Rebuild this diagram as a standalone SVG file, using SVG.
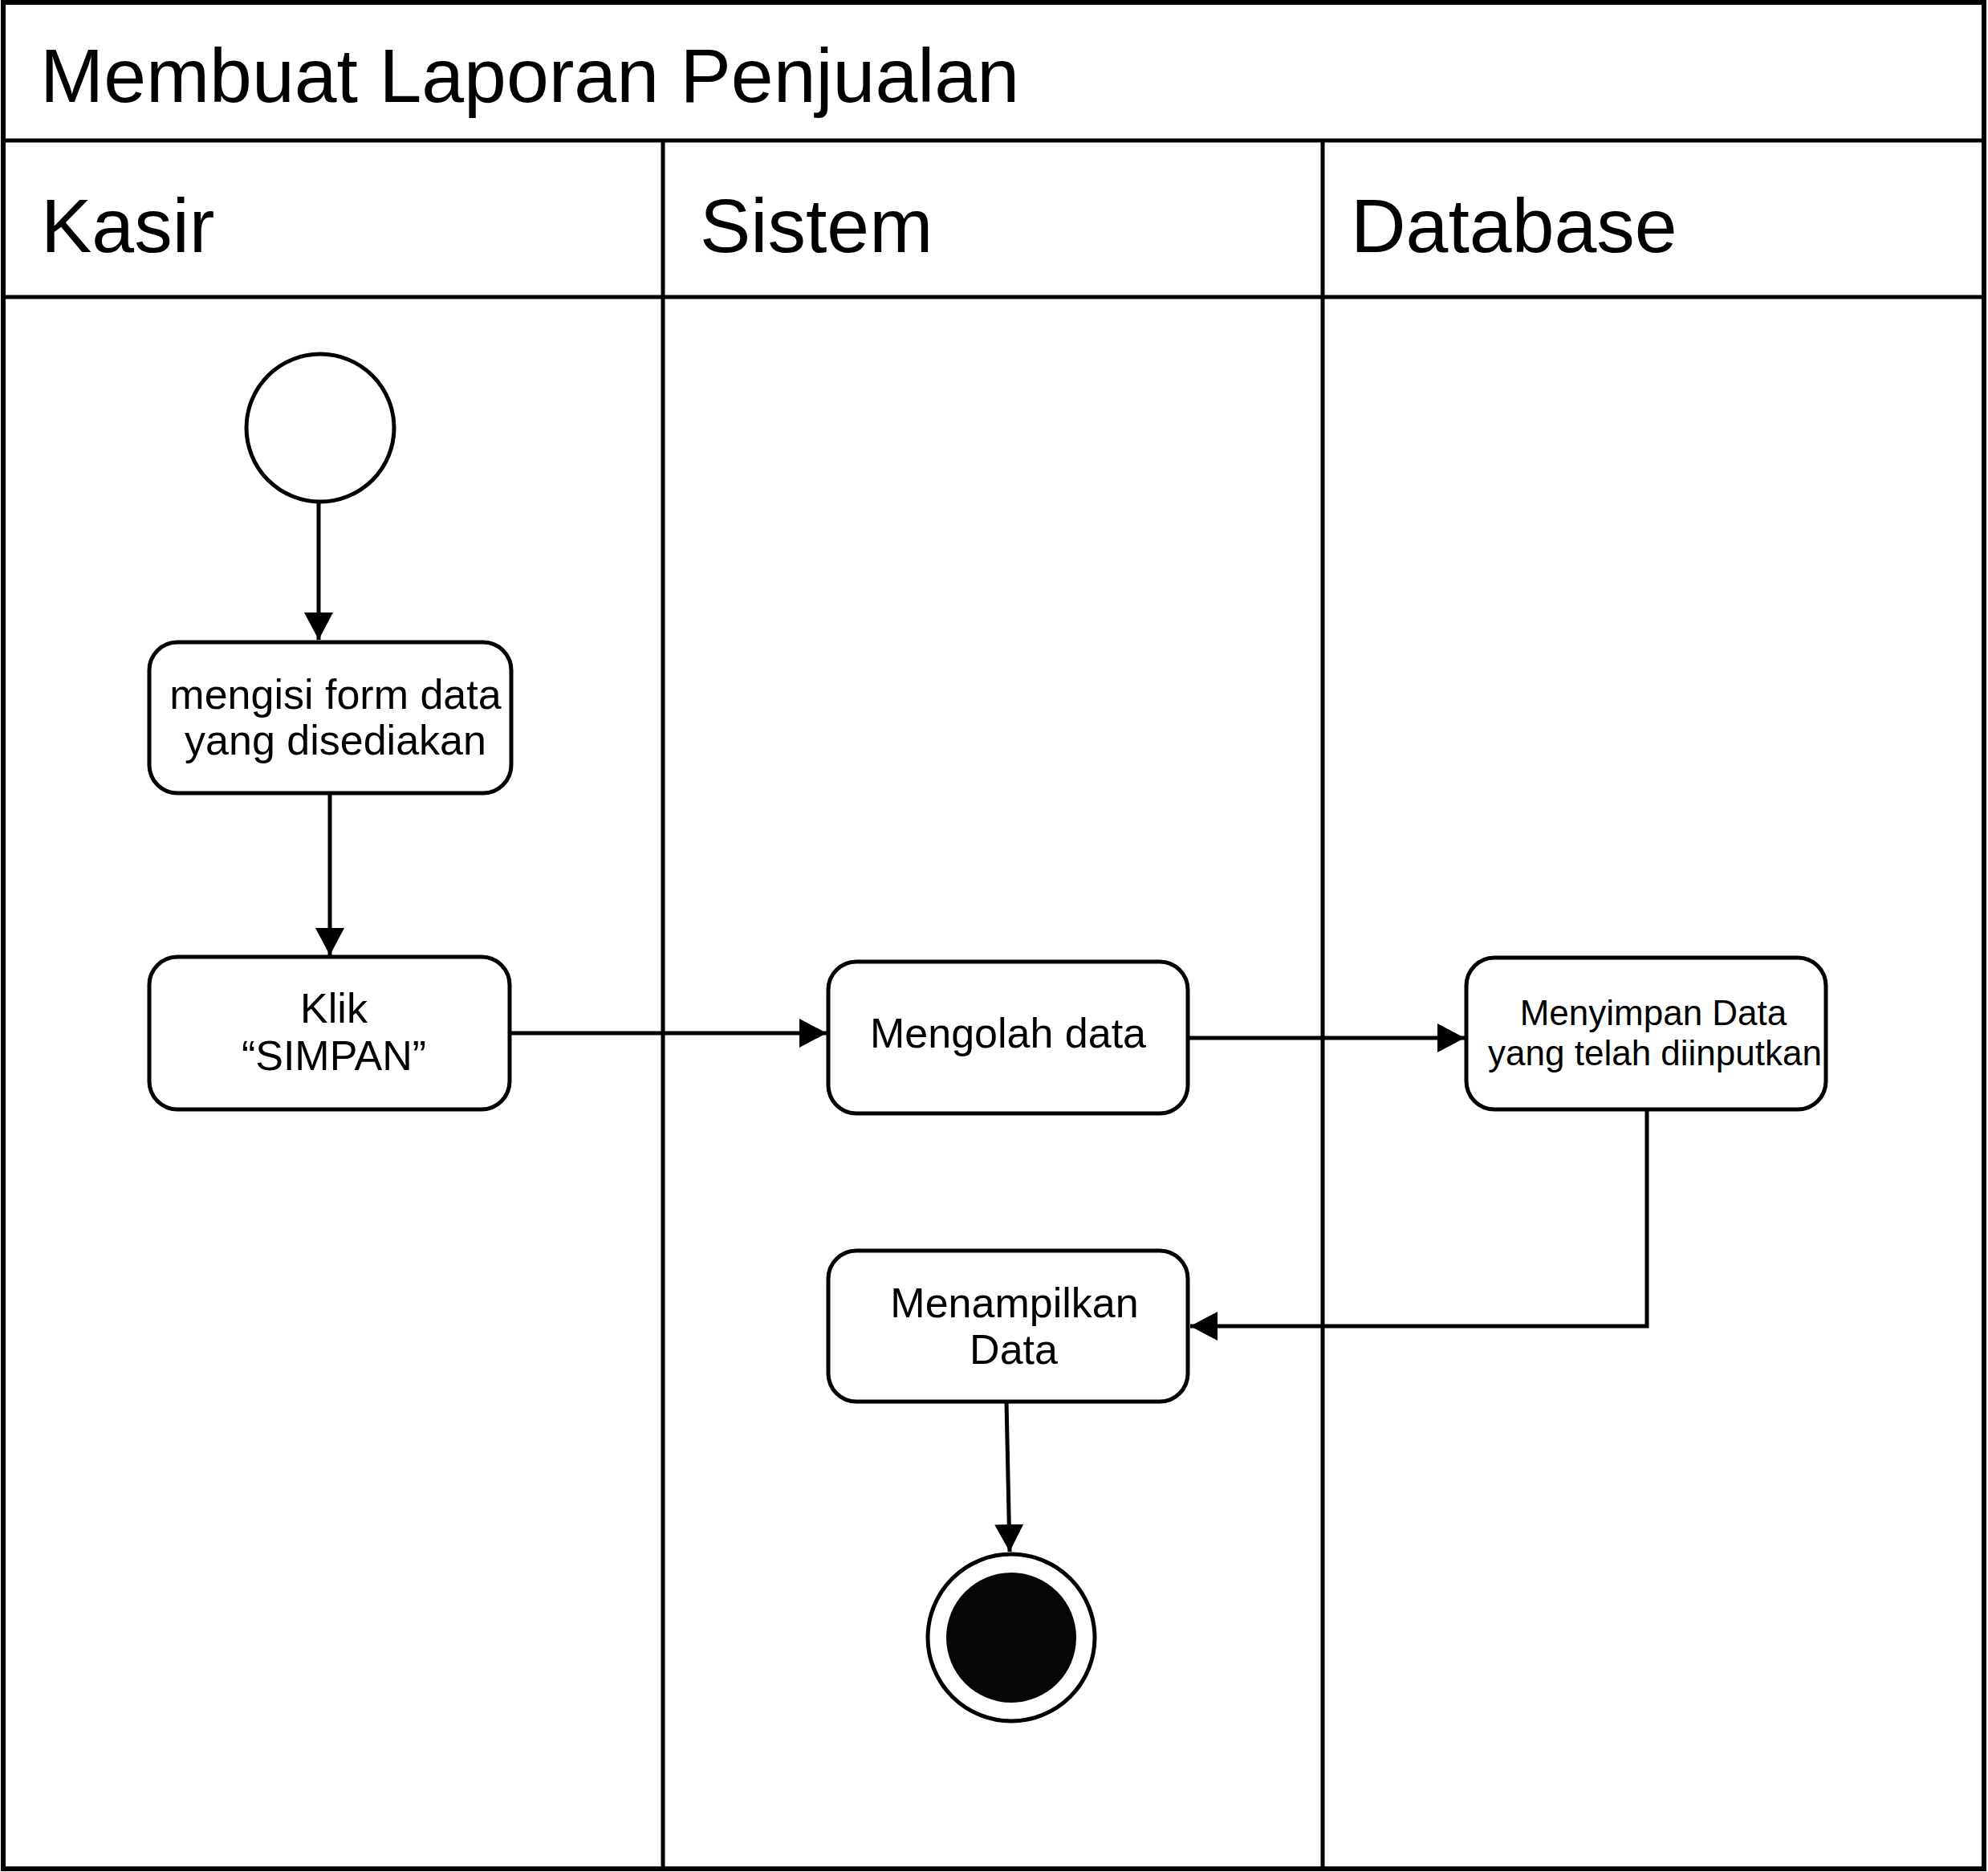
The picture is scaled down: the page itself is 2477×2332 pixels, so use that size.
<svg xmlns="http://www.w3.org/2000/svg" width="2477" height="2332" viewBox="0 0 2477 2332">
<style>
.ln{stroke:#000;stroke-width:5;fill:none}
.box{fill:#fff;stroke:#000;stroke-width:5}
.t{font-family:"Liberation Sans",Arial,sans-serif;fill:#000}
.hd{font-size:95px}
.bx{font-size:52px;text-anchor:middle}
.sm{font-size:44px;text-anchor:middle}
</style>
<defs>
<marker id="arr" viewBox="0 0 34 36" refX="34" refY="18" markerWidth="34" markerHeight="36" markerUnits="userSpaceOnUse" orient="auto">
<path d="M0,0 L34,18 L0,36 Z" fill="#000"/>
</marker>
</defs>
<rect width="2477" height="2332" fill="#fff"/>
<g id="pool">
<rect x="4" y="3" width="2468" height="2325" fill="#fff" stroke="#000" stroke-width="6"/>
<line class="ln" x1="4" y1="175" x2="2472" y2="175"/>
<line class="ln" x1="4" y1="370" x2="2472" y2="370"/>
<line class="ln" x1="826" y1="175" x2="826" y2="2328"/>
<line class="ln" x1="1648" y1="175" x2="1648" y2="2328"/>
<text class="t hd" x="50" y="127">Membuat Laporan Penjualan</text>
<text class="t hd" x="51" y="314">Kasir</text>
<text class="t hd" x="872" y="314">Sistem</text>
<text class="t hd" x="1683" y="314">Database</text>
</g>
<g id="connectors">
<line class="ln" x1="397" y1="626" x2="397" y2="797" marker-end="url(#arr)"/>
<line class="ln" x1="411" y1="988" x2="411" y2="1190" marker-end="url(#arr)"/>
<line class="ln" x1="635" y1="1287" x2="1030" y2="1287" marker-end="url(#arr)"/>
<line class="ln" x1="1480" y1="1293" x2="1825" y2="1293" marker-end="url(#arr)"/>
<polyline class="ln" points="2052,1382 2052,1652 1483,1652" marker-end="url(#arr)"/>
<line class="ln" x1="1254" y1="1746" x2="1258" y2="1933" marker-end="url(#arr)"/>
</g>
<g id="start">
<circle cx="399" cy="533" r="92" fill="#fff" stroke="#000" stroke-width="5"/>
</g>
<g id="node-mengisi">
<rect class="box" x="186" y="800" width="451" height="188" rx="35"/>
<text class="t bx" x="418" y="883">mengisi form data</text>
<text class="t bx" x="418" y="940">yang disediakan</text>
</g>
<g id="node-klik">
<rect class="box" x="186" y="1192" width="449" height="190" rx="35"/>
<text class="t bx" x="416" y="1274">Klik</text>
<text class="t bx" x="416" y="1333">“SIMPAN”</text>
</g>
<g id="node-mengolah">
<rect class="box" x="1032" y="1198" width="448" height="189" rx="35"/>
<text class="t bx" x="1256" y="1305">Mengolah data</text>
</g>
<g id="node-menyimpan">
<rect class="box" x="1827" y="1193" width="448" height="189" rx="35"/>
<text class="t sm" x="2060" y="1277">Menyimpan Data</text>
<text class="t sm" x="2062" y="1327">yang telah diinputkan</text>
</g>
<g id="node-menampilkan">
<rect class="box" x="1032" y="1558" width="448" height="188" rx="35"/>
<text class="t bx" x="1264" y="1641">Menampilkan</text>
<text class="t bx" x="1263" y="1699">Data</text>
</g>
<g id="end">
<circle cx="1260" cy="2040" r="104" fill="#fff" stroke="#000" stroke-width="5"/>
<circle cx="1260" cy="2040" r="81" fill="#050605"/>
</g>
</svg>
